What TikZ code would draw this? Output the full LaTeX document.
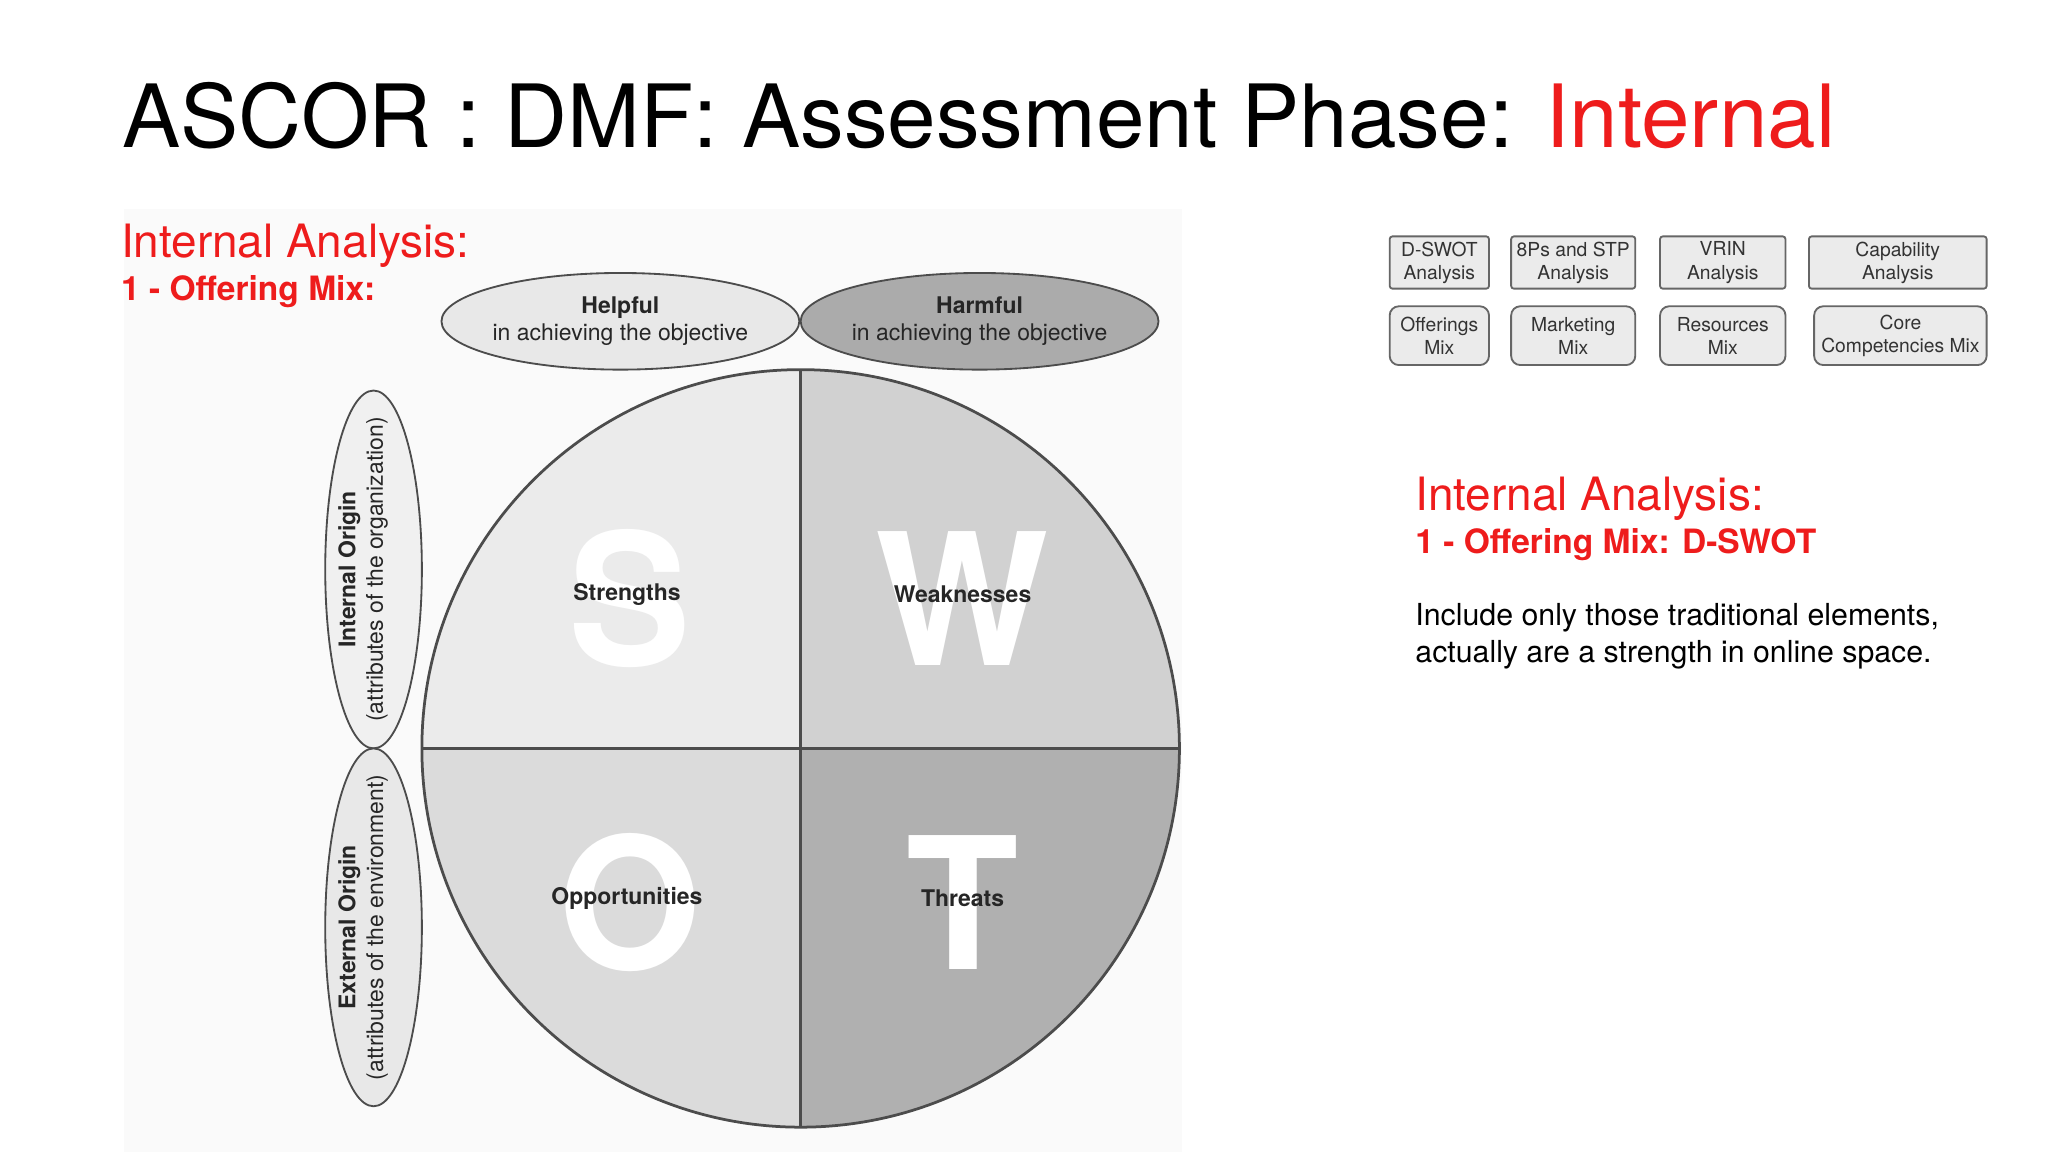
\documentclass[tikz,border=0pt]{standalone}
\usepackage{fontspec}
\setmainfont{TeX Gyre Heros}
\definecolor{ired}{HTML}{EE1C1C}
\newcommand{\fsz}[1]{\fontsize{#1pt}{1.2\dimexpr#1pt\relax}\selectfont}
\begin{document}
\begin{tikzpicture}[x=0.01cm,y=-0.01cm,
  ell/.style={draw=black!70,line width=0.4pt},
  lbl/.style={font=\fsz{5}\bfseries,text=black!85},
  big/.style={font=\fsz{40}\bfseries,text=white},
  box/.style={draw=black!60,fill=black!8,rounded corners=0.6pt,line width=0.4pt,align=center,font=\fsz{4.2},text=black!80,inner sep=0pt,minimum height=0.4cm}]
\useasboundingbox (0,0) rectangle (1568,882);
\fill[white] (0,0) rectangle (1568,882);
\fill[black!2] (95,160) rectangle (905,882);
\node[anchor=base west,inner sep=0,font=\fsz{19}] (title) at (93,113) {ASCOR : DMF: Assessment Phase: \textcolor{ired}{Internal}};
\node[anchor=base west,inner sep=0,font=\fsz{10},text=ired] (ia1) at (92,197) {Internal Analysis:};
\node[anchor=base west,inner sep=0,font=\fsz{7.3}\bfseries,text=ired] (om1) at (92,230) {1 - Offering Mix:};
% circle quadrants
\coordinate (c) at (613,573);
\fill[black!8] (c) -- (323,573) arc[start angle=180,end angle=270,radius=290] -- cycle;
\fill[black!18] (c) -- (613,283) arc[start angle=270,end angle=360,radius=290] -- cycle;
\fill[black!14] (c) -- (323,573) arc[start angle=180,end angle=90,radius=290] -- cycle;
\fill[black!31] (c) -- (903,573) arc[start angle=0,end angle=90,radius=290] -- cycle;
\node[big] (S) at (482,458) {S};
\node[big] (W) at (737,458) {W};
\node[big] (O) at (482,691) {O};
\node[big] (T) at (737,691) {T};
\draw[black!70,line width=0.6pt] (c) circle[radius=290];
\draw[black!70,line width=0.6pt] (323,573) -- (903,573) (613,283) -- (613,863);
\node[lbl] (s) at (480,455) {Strengths};
\node[lbl] (w) at (737,455) {Weaknesses};
\node[lbl] (o) at (480,688) {Opportunities};
\node[lbl] (t) at (737,688) {Threats};
% ellipses
\draw[ell,fill=black!9] (475,246) ellipse[x radius=137,y radius=37];
\draw[ell,fill=black!33] (750,246) ellipse[x radius=137,y radius=37];
\node[align=center,font=\fsz{5},text=black!85] (help) at (475,246) {\textbf{Helpful}\\in achieving the objective};
\node[align=center,font=\fsz{5},text=black!85] (harm) at (750,246) {\textbf{Harmful}\\in achieving the objective};
\draw[ell,fill=black!6] (286,436) ellipse[x radius=37,y radius=137];
\draw[ell,fill=black!9] (286,710) ellipse[x radius=37,y radius=137];
\node[rotate=90,align=center,font=\fsz{5},text=black!85] (io) at (278,436) {\textbf{Internal Origin}\\(attributes of the organization)};
\node[rotate=90,align=center,font=\fsz{5},text=black!85] (eo) at (278,710) {\textbf{External Origin}\\(attributes of the environment)};
% boxes
\node[box,minimum width=0.76cm] (b1) at (1102,201) {D-SWOT\\Analysis};
\node[box,minimum width=0.95cm] (b2) at (1204.5,201) {8Ps and STP\\Analysis};
\node[box,minimum width=0.96cm] (b3) at (1319,201) {VRIN\\Analysis};
\node[box,minimum width=1.36cm] (b4) at (1453,201) {Capability\\Analysis};
\node[box,minimum width=0.76cm,minimum height=0.45cm,rounded corners=2pt] (b5) at (1102,257) {Offerings\\Mix};
\node[box,minimum width=0.95cm,minimum height=0.45cm,rounded corners=2pt] (b6) at (1204.5,257) {Marketing\\Mix};
\node[box,minimum width=0.96cm,minimum height=0.45cm,rounded corners=2pt] (b7) at (1319,257) {Resources\\Mix};
\node[box,minimum width=1.32cm,minimum height=0.45cm,rounded corners=2pt] (b8) at (1455,257) {Core\\Competencies Mix};
% right text
\node[anchor=base west,inner sep=0,font=\fsz{10},text=ired] (ia2) at (1083,391) {Internal Analysis:};
\node[anchor=base west,inner sep=0,font=\fsz{7.3}\bfseries,text=ired] (om2) at (1083,424) {1 - Offering Mix: D-SWOT};
\node[anchor=base west,inner sep=0,font=\fsz{6.6}] (body1) at (1083,479) {Include only those traditional elements,};
\node[anchor=base west,inner sep=0,font=\fsz{6.6}] (body2) at (1083,507) {actually are a strength in online space.};
\end{tikzpicture}
\end{document}
